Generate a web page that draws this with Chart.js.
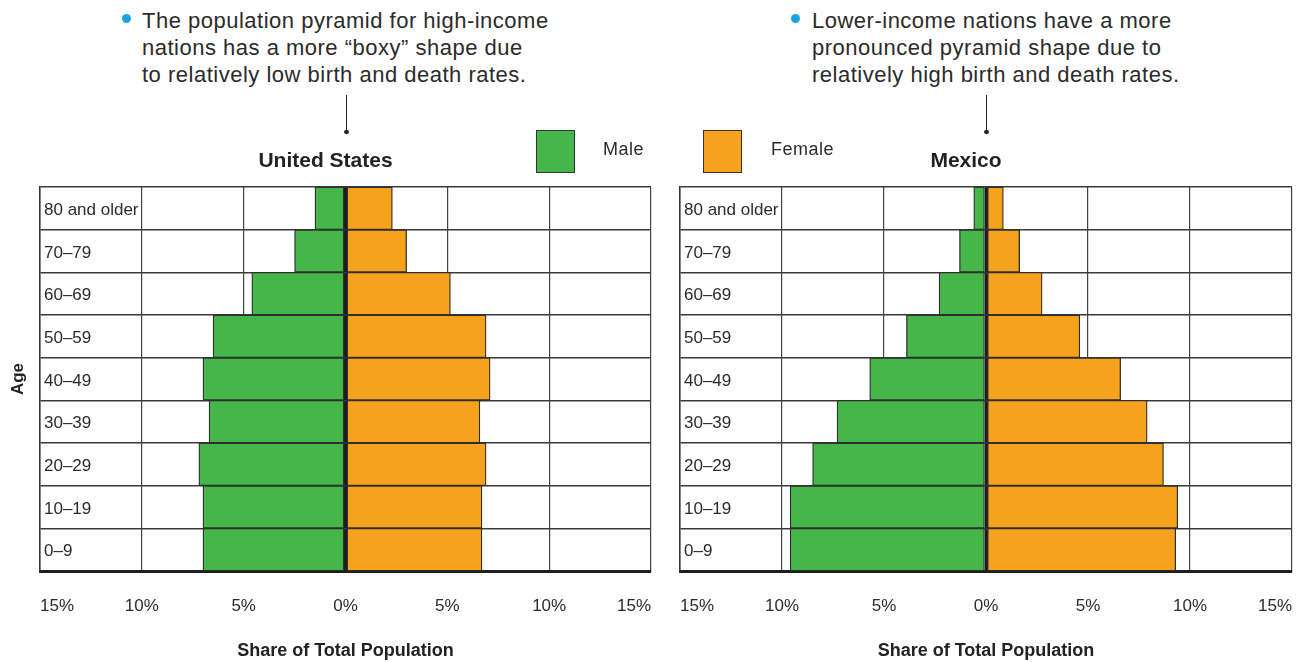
<!DOCTYPE html>
<html>
<head>
<meta charset="utf-8">
<title>Population pyramids: United States and Mexico</title>
<script src="https://cdn.jsdelivr.net/npm/chart.js@4.4.1/dist/chart.umd.min.js"></script>
<style>
  html, body {
    margin: 0; padding: 0;
    width: 1297px; height: 662px;
    overflow: hidden;
    background: #ffffff;
    font-family: "Liberation Sans", Arial, sans-serif;
    color: #2b2b2b;
  }
  .panel { position: absolute; top: 0; }
  .note {
    position: absolute;
    font-size: 22px;
    line-height: 27px;
    letter-spacing: 0.5px;
    white-space: nowrap;
    color: #2b2b2b;
  }
  .bullet {
    position: absolute;
    width: 9px; height: 9px;
    border-radius: 50%;
    background: #1ba4e4;
  }
  .stem {
    position: absolute;
    width: 1.5px;
    background: #222;
  }
  .stem::after {
    content: "";
    position: absolute;
    left: -1.5px; bottom: -2px;
    width: 4.5px; height: 4.5px;
    border-radius: 50%;
    background: #222;
  }
  .swatch {
    position: absolute;
    box-sizing: border-box;
    width: 39px; height: 43px;
    border: 1.5px solid #333;
  }
  .key {
    position: absolute;
    font-size: 18px;
    line-height: 20px;
    letter-spacing: 0.5px;
    color: #2b2b2b;
  }
</style>
</head>
<body>

<div class="bullet" style="left:122px; top:14px;"></div>
<div class="note" style="left:142px; top:7px;">The population pyramid for high-income<br>nations has a more “boxy” shape due<br>to relatively low birth and death rates.</div>
<div class="stem" style="left:345.5px; top:95px; height:37px;"></div>

<div class="bullet" style="left:791px; top:14px;"></div>
<div class="note" style="left:812px; top:7px;">Lower-income nations have a more<br>pronounced pyramid shape due to<br>relatively high birth and death rates.</div>
<div class="stem" style="left:985.5px; top:95px; height:37px;"></div>

<div class="panel" style="left:0px;"><canvas id="usChart" width="692" height="662"></canvas></div>
<div class="panel" style="left:640px;"><canvas id="mxChart" width="692" height="662"></canvas></div>

<div class="swatch" id="maleSwatch" style="left:536px; top:130px;"></div>
<div class="key" style="left:603px; top:139px;">Male</div>
<div class="swatch" id="femaleSwatch" style="left:703px; top:130px;"></div>
<div class="key" style="left:771px; top:139px;">Female</div>

<script>
// Age bands, listed from the top row of the pyramid down.
const ageGroups = ['80 and older', '70–79', '60–69', '50–59', '40–49', '30–39', '20–29', '10–19', '0–9'];

// Share of total population (%) in each age band.
const usMale       = [1.5, 2.5, 4.6, 6.5, 7.0, 6.7, 7.2, 7.0, 7.0];
const usFemale     = [2.3, 3.0, 5.15, 6.9, 7.1, 6.6, 6.9, 6.7, 6.7];
const mexicoMale   = [0.6, 1.3, 2.3, 3.9, 5.7, 7.3, 8.5, 9.6, 9.6];
const mexicoFemale = [0.85, 1.65, 2.75, 4.6, 6.6, 7.9, 8.7, 9.4, 9.3];

// Share axis runs both ways from zero.
const shareMin = -15;
const shareMax = 15;
const shareStep = 5;

const MALE_COLOR = '#45b649';
const FEMALE_COLOR = '#f7a21d';
const INK = '#2b2b2b';
const FONT = '"Liberation Sans", Arial, sans-serif';

document.getElementById('maleSwatch').style.background = MALE_COLOR;
document.getElementById('femaleSwatch').style.background = FEMALE_COLOR;

function makePyramid(canvasId, country, male, female, showAgeTitle, rightPad) {
  const ctx = document.getElementById(canvasId).getContext('2d');
  return new Chart(ctx, {
    type: 'bar',
    data: {
      labels: ageGroups,
      datasets: [
        {
          label: 'Male',
          // males extend to the left of zero
          data: male.map(v => -v),
          backgroundColor: MALE_COLOR,
          borderColor: '#2e2e2e',
          borderWidth: 1.3,
          borderSkipped: false,
          barPercentage: 1,
          categoryPercentage: 1
        },
        {
          label: 'Female',
          data: female,
          backgroundColor: FEMALE_COLOR,
          borderColor: '#2e2e2e',
          borderWidth: 1.3,
          borderSkipped: false,
          barPercentage: 1,
          categoryPercentage: 1
        }
      ]
    },
    options: {
      indexAxis: 'y',
      responsive: false,
      animation: false,
      devicePixelRatio: 1,
      layout: { padding: { top: 149, right: rightPad, bottom: 0, left: 0 } },
      plugins: {
        legend: { display: false },
        tooltip: { enabled: false },
        title: {
          display: true,
          text: country,
          color: '#222',
          font: { family: FONT, size: 21, weight: 'bold' },
          padding: { top: 0, bottom: 12.8 }
        }
      },
      scales: {
        x: {
          type: 'linear',
          stacked: true,
          min: shareMin,
          max: shareMax,
          afterFit: s => { s.height = 91; },
          ticks: {
            stepSize: shareStep,
            align: 'inner',
            autoSkip: false,
            maxRotation: 0,
            padding: 25,
            color: INK,
            font: { family: FONT, size: 17 },
            callback: v => Math.abs(v) + '%'
          },
          grid: {
            drawTicks: false,
            color: c => (c.tick && c.tick.value === 0) ? '#1e1e1e' : '#444',
            lineWidth: c => (c.tick && c.tick.value === 0) ? 3 : 1.2
          },
          border: { display: true, color: '#1e1e1e', width: 3 },
          title: {
            display: true,
            text: 'Share of Total Population',
            color: '#222',
            font: { family: FONT, size: 18, weight: 'bold' },
            padding: { top: 0, bottom: 0 }
          }
        },
        y: {
          type: 'category',
          stacked: true,
          afterFit: s => { s.width = 40; },
          ticks: {
            mirror: true,
            padding: 4,
            labelOffset: 2,
            color: INK,
            font: { family: FONT, size: 17 }
          },
          grid: {
            drawTicks: false,
            offset: true,
            color: '#3a3a3a',
            lineWidth: 1.5
          },
          border: { display: true, color: '#333', width: 1.5 },
          title: {
            display: showAgeTitle,
            text: 'Age',
            color: '#222',
            font: { family: FONT, size: 17, weight: 'bold' },
            padding: { top: 8, bottom: 0 }
          }
        }
      }
    }
  });
}

makePyramid('usChart', 'United States', usMale, usFemale, true, 41);
makePyramid('mxChart', 'Mexico', mexicoMale, mexicoFemale, false, 40);
</script>
</body>
</html>
